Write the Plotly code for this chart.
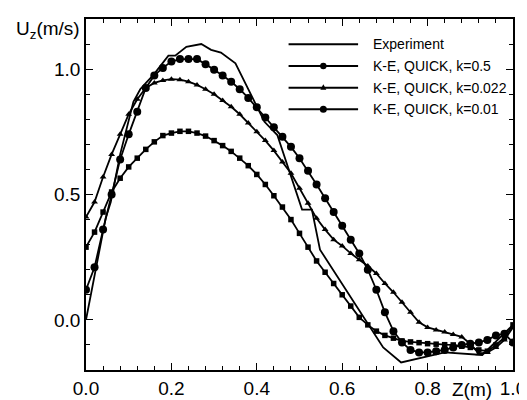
import plotly.graph_objects as go

# ---------------- data ----------------
z_exp = [0.0, 0.03, 0.046, 0.058, 0.08, 0.111, 0.127, 0.141, 0.158, 0.193, 0.209,
         0.235, 0.258, 0.27, 0.293, 0.316, 0.35, 0.394, 0.418, 0.448, 0.471, 0.506,
         0.529, 0.548, 0.696, 0.738, 0.84, 0.928, 1.0]
u_exp = [0.0, 0.27, 0.405, 0.47, 0.66, 0.87, 0.92, 0.946, 0.977, 1.054, 1.054,
         1.089, 1.097, 1.10, 1.077, 1.066, 1.023, 0.869, 0.79, 0.737, 0.62, 0.44,
         0.44, 0.28, -0.11, -0.17, -0.13, -0.14, -0.02]

z_sim = [0.00, 0.02, 0.04, 0.06, 0.08, 0.10, 0.12, 0.14, 0.16, 0.18,
         0.20, 0.22, 0.24, 0.26, 0.28, 0.30, 0.32, 0.34, 0.36, 0.38,
         0.40, 0.42, 0.44, 0.46, 0.48, 0.50, 0.52, 0.54, 0.56, 0.58,
         0.60, 0.62, 0.64, 0.66, 0.68, 0.70, 0.72, 0.74, 0.76, 0.78,
         0.80, 0.82, 0.84, 0.86, 0.88, 0.90, 0.92, 0.94, 0.96, 0.98, 1.00]

u_k05 = [0.29, 0.35, 0.43, 0.51, 0.565, 0.61, 0.645, 0.68, 0.71, 0.735,
         0.745, 0.752, 0.752, 0.745, 0.733, 0.715, 0.695, 0.672, 0.645, 0.615,
         0.58, 0.54, 0.495, 0.45, 0.40, 0.345, 0.29, 0.235, 0.19, 0.145,
         0.10, 0.055, 0.01, -0.02, -0.045, -0.062, -0.073, -0.084, -0.088, -0.091,
         -0.095, -0.097, -0.099, -0.10, -0.105, -0.11, -0.12, -0.125, -0.10, -0.07, -0.02]

u_k0022 = [0.41, 0.47, 0.57, 0.66, 0.74, 0.82, 0.88, 0.925, 0.945, 0.955,
           0.96, 0.958, 0.95, 0.937, 0.92, 0.90, 0.875, 0.85, 0.82, 0.785,
           0.75, 0.715, 0.675, 0.63, 0.585, 0.525, 0.465, 0.405, 0.36, 0.32,
           0.295, 0.265, 0.24, 0.215, 0.185, 0.145, 0.11, 0.07, 0.03, -0.01,
           -0.03, -0.04, -0.048, -0.058, -0.068, -0.095, -0.135, -0.13, -0.11, -0.08, -0.03]

u_k001 = [0.12, 0.21, 0.36, 0.50, 0.64, 0.74, 0.83, 0.925, 0.975, 1.005,
          1.03, 1.04, 1.04, 1.04, 1.02, 0.998, 0.975, 0.95, 0.92, 0.885,
          0.848, 0.807, 0.768, 0.73, 0.69, 0.645, 0.595, 0.54, 0.485, 0.43,
          0.375, 0.32, 0.265, 0.20, 0.12, 0.03, -0.045, -0.09, -0.12, -0.13,
          -0.13, -0.125, -0.12, -0.11, -0.10, -0.095, -0.09, -0.08, -0.062, -0.055, -0.09]

x_ticks = [0.0, 0.2, 0.4, 0.6, 0.8, 1.0]
x_ticklabels = ["0.0", "0.2", "0.4", "0.6", "0.8", "1.0"]
y_ticks = [0.0, 0.5, 1.0]
y_ticklabels = ["0.0", "0.5", "1.0"]

names = ["Experiment", "K-E, QUICK, k=0.5", "K-E, QUICK, k=0.022", "K-E, QUICK, k=0.01"]
symbols = [None, "square", "triangle-up", "circle"]
marker_sizes = [0, 5.5, 6, 8]

FONT = "Liberation Sans, Arial, Helvetica, sans-serif"
BLACK = "black"
LW = 1.8

fig = go.Figure()
series = [(z_exp, u_exp), (z_sim, u_k05), (z_sim, u_k0022), (z_sim, u_k001)]
for i, (zz, uu) in enumerate(series):
    if symbols[i] is None:
        fig.add_trace(go.Scatter(x=zz, y=uu, mode="lines", name=names[i],
                                 line=dict(color=BLACK, width=LW), showlegend=False))
    else:
        fig.add_trace(go.Scatter(x=zz, y=uu, mode="lines+markers", name=names[i],
                                 line=dict(color=BLACK, width=LW),
                                 marker=dict(symbol=symbols[i], size=marker_sizes[i], color=BLACK),
                                 showlegend=False))

axis_common = dict(showline=True, linecolor=BLACK, linewidth=1.6, mirror="ticks",
                   ticks="inside", ticklen=7, tickwidth=1.3, tickcolor=BLACK,
                   showgrid=False, zeroline=False,
                   tickfont=dict(family=FONT, size=19, color=BLACK))

fig.update_xaxes(range=[0, 1], tickvals=x_ticks, ticktext=x_ticklabels,
                 minor=dict(ticks="inside", dtick=0.04, ticklen=4, tickcolor=BLACK, tickwidth=1),
                 **axis_common)
fig.update_yaxes(range=[-0.2, 1.2], tickvals=y_ticks, ticktext=y_ticklabels,
                 minor=dict(ticks="inside", dtick=0.1, tick0=0, ticklen=4, tickcolor=BLACK, tickwidth=1),
                 **axis_common)

# ---------------- hand-drawn legend (long line samples, marker in the middle) ----------------
PLOT_L, PLOT_W, PLOT_B, PLOT_H = 78, 430, 371, 362
def px2paper_x(px):
    return (px - PLOT_L) / PLOT_W
def px2paper_y(py):
    return (PLOT_B - py) / PLOT_H

leg_rows = [35, 57.5, 80, 102]
leg_x0, leg_x1, leg_xm, leg_tx = 282, 352, 317, 365

shapes = []
annotations = []
for i, name in enumerate(names):
    yy = px2paper_y(leg_rows[i])
    shapes.append(dict(type="line", xref="paper", yref="paper",
                       x0=px2paper_x(leg_x0), x1=px2paper_x(leg_x1), y0=yy, y1=yy,
                       line=dict(color=BLACK, width=2)))
    xm = px2paper_x(leg_xm)
    if symbols[i] == "circle":
        shapes.append(dict(type="circle", xref="paper", yref="paper",
                           xsizemode="pixel", ysizemode="pixel", xanchor=xm, yanchor=yy,
                           x0=-3.5, x1=3.5, y0=-3.5, y1=3.5,
                           fillcolor=BLACK, line=dict(width=0)))
    elif symbols[i] == "square":
        shapes.append(dict(type="circle", xref="paper", yref="paper",
                           xsizemode="pixel", ysizemode="pixel", xanchor=xm, yanchor=yy,
                           x0=-3.2, x1=3.2, y0=-3.2, y1=3.2,
                           fillcolor=BLACK, line=dict(width=0)))
    elif symbols[i] == "triangle-up":
        shapes.append(dict(type="path", xref="paper", yref="paper",
                           xsizemode="pixel", ysizemode="pixel", xanchor=xm, yanchor=yy,
                           path="M-3,-2 L3,-2 L0,3.5 Z",
                           fillcolor=BLACK, line=dict(width=0)))
    annotations.append(dict(text=name, xref="paper", yref="paper",
                            x=px2paper_x(leg_tx), y=yy, xanchor="left", yanchor="middle",
                            showarrow=False, font=dict(family=FONT, size=14, color=BLACK)))

annotations.append(dict(text="U<sub>z</sub>(m/s)", xref="paper", yref="paper",
                        x=px2paper_x(40), y=px2paper_y(20), xanchor="center", yanchor="middle",
                        showarrow=False, font=dict(family=FONT, size=19, color=BLACK)))
annotations.append(dict(text="Z(m)", xref="paper", yref="paper",
                        x=px2paper_x(467), y=px2paper_y(391), xanchor="center", yanchor="middle",
                        showarrow=False, font=dict(family=FONT, size=19, color=BLACK)))

fig.update_layout(
    width=527, height=400,
    margin=dict(l=78, r=19, t=9, b=29),
    plot_bgcolor="white", paper_bgcolor="white",
    font=dict(family=FONT, color=BLACK),
    showlegend=False,
    shapes=shapes,
    annotations=annotations,
)

fig.write_html("out.html")
